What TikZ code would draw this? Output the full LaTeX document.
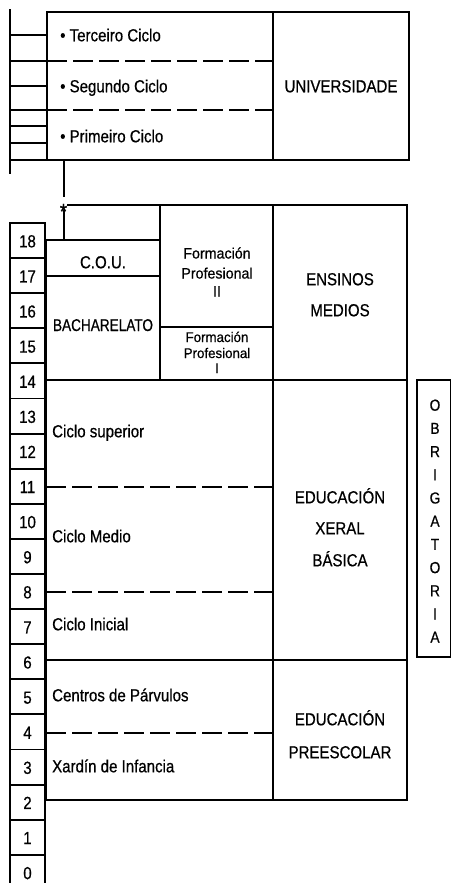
\documentclass[tikz,border=0pt]{standalone}
\usepackage{fontspec}
\setmainfont{Liberation Sans}[FakeStretch=0.86,FakeBold=0.6]
\newfontfamily\fpfont{Liberation Sans}[FakeStretch=0.95,FakeBold=0.6]
\newfontfamily\bachfont{Liberation Sans}[FakeStretch=0.8,FakeBold=0.6]
\begin{document}
\begin{tikzpicture}[x=1pt,y=-1pt,
  frame/.style={line width=2.4pt, line cap=rect, line join=miter},
  inner/.style={line width=1.9pt, line cap=rect},
  dashline/.style={line width=1.5pt, dash pattern=on 20pt off 6pt},
  txt/.style={inner sep=0, font=\fontsize{17.5}{20}\selectfont, anchor=base},
  txtw/.style={txt, anchor=base west},
  fp/.style={inner sep=0, font=\fpfont\fontsize{15}{18}\selectfont, anchor=base},
  fpsmall/.style={inner sep=0, font=\fpfont\fontsize{14}{16}\selectfont, anchor=base},
  oletter/.style={inner sep=0, font=\fontsize{16}{18}\selectfont, anchor=base}]
\useasboundingbox (0,0) rectangle (452,883);

% ---------------- University ----------------
\draw[frame] (47,12) rectangle (409,160);
\draw[inner] (273,12) -- (273,160);
\draw[dashline] (47,61) -- (273,61);
\draw[dashline] (47,110) -- (273,110);
\draw[frame] (10,10) -- (10,173);
\draw[frame] (10,160) -- (47,160);
\foreach \yy in {35,61,86,110,126,143} \draw[inner] (10,\yy) -- (47,\yy);
\node[txtw] (terc) at (60,41.3) {• Terceiro Ciclo};
\node[txtw] (seg) at (60,92.3) {• Segundo Ciclo};
\node[txtw] (prim) at (60,142.3) {• Primeiro Ciclo};
\node[txt] (univ) at (341,92.3) {UNIVERSIDADE};

% connector with asterisk
\node[inner sep=0, font=\fontsize{22}{22}\selectfont, anchor=base] (star) at (63.5,219) {*};
\coordinate (ustart) at (64,160);
\coordinate (ulow) at (64,196);
\coordinate (sbot) at (64,211);
\coordinate (cou) at (64,240);
\draw[frame] (ustart) -- (ulow);
\draw[frame] (sbot) -- (cou);

% ---------------- Ensinos medios ----------------
\draw[frame] (68,205) -- (407,205) -- (407,800) -- (46,800) -- (46,240) -- (160,240);
\draw[inner] (46,276) -- (160,276);
\draw[inner] (160,205) -- (160,380);
\draw[inner] (273,205) -- (273,800);
\draw[inner] (160,327) -- (273,327);
\draw[frame] (46,380) -- (407,380);
\draw[frame] (46,660) -- (407,660);
\draw[dashline] (46,487) -- (273,487);
\draw[dashline] (46,592) -- (273,592);
\draw[dashline] (46,733) -- (273,733);

\node[txt] (cout) at (103,268.3) {C.O.U.};
\node[inner sep=0, font=\bachfont\fontsize{17}{20}\selectfont, anchor=base] (bach) at (103,331) {BACHARELATO};
\node[fp] (fp2a) at (217,258.5) {Formación};
\node[fp] (fp2b) at (217,278.5) {Profesional};
\node[fp] (fp2c) at (217,296.5) {II};
\node[fpsmall] (fp1a) at (217,342) {Formación};
\node[fpsmall] (fp1b) at (217,358) {Profesional};
\node[fpsmall] (fp1c) at (217,373) {I};
\node[txt] (ens) at (340,285.3) {ENSINOS};
\node[txt] (med) at (340,316.3) {MEDIOS};

\node[txtw] (csup) at (52,437.3) {Ciclo superior};
\node[txtw] (cmed) at (52,542.3) {Ciclo Medio};
\node[txtw] (cini) at (52,630.3) {Ciclo Inicial};
\node[txt] (egb1) at (340,503.3) {EDUCACIÓN};
\node[txt] (egb2) at (340,534.3) {XERAL};
\node[txt] (egb3) at (340,566.3) {BÁSICA};

\node[txtw] (parv) at (52,701.3) {Centros de Párvulos};
\node[txtw] (xard) at (52,772.3) {Xardín de Infancia};
\node[txt] (pre1) at (340,725.3) {EDUCACIÓN};
\node[txt] (pre2) at (340,758.3) {PREESCOLAR};

% ---------------- Age column ----------------
\draw[frame] (10,883) -- (10,223) -- (45,223) -- (45,883);
\foreach \k in {1,...,18} \draw[inner] (10,223+\k*35.1) -- (45,223+\k*35.1);
\foreach \a [count=\k from 0] in {18,17,...,0}
  \node[txt] (age\a) at (27.5,223+\k*35.1+17.55+6.8) {\a};

% ---------------- Obrigatoria ----------------
\draw[inner] (417,380) rectangle (450.5,657);
\foreach \l [count=\i from 0] in {O,B,R,I,G,A,T,O,R,I,A}
  \node[oletter] (ob\i) at (435,405+\i*23.2+5.7) {\l};
\end{tikzpicture}
\end{document}
